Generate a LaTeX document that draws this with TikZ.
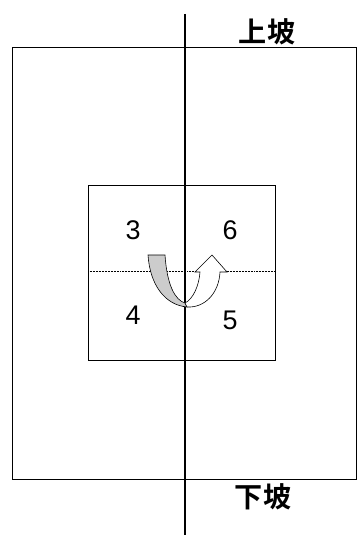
\documentclass[tikz,border=0pt]{standalone}
\usepackage{fontspec}
\setmainfont{Liberation Sans}
\newfontfamily\cjk{Noto Sans CJK SC Bold}
\usepackage{tikz}

\begin{document}
\begin{tikzpicture}[
    x=0.03cm, y=-0.03cm,
    every node/.style={inner sep=0pt},
    num/.style={font=\fontsize{23}{23}\selectfont},
    slope/.style={font=\cjk\fontsize{24}{24}\selectfont},
  ]
    \useasboundingbox (0, 0) rectangle (357, 535);

    % 外框
    \draw[line width=0.8pt] (12, 47) rectangle (356, 479);
    % 中间方框
    \draw[line width=0.8pt] (88, 185) rectangle (275, 360);
    % 虚线
    \draw[line width=0.3pt, densely dotted] (88, 271) -- (275, 271);
    % 竖线
    \draw[line width=1.1pt] (185, 14) -- (185, 535);

    % 掉头箭头（灰色部分）
    \draw[fill=gray!40, line width=0.5pt]
      (148, 255) -- (165, 255)
      .. controls (167, 285) and (175, 300) .. (185, 303)
      -- (187, 307)
      .. controls (165, 305) and (150, 285) .. (148, 255) -- cycle;
    % 掉头箭头（白色部分）
    \draw[fill=white, line width=0.5pt]
      (185, 303) .. controls (193, 299) and (199, 286) .. (200, 272)
      -- (195, 272) -- (212, 255) -- (227, 272) -- (220, 272)
      .. controls (219, 293) and (205, 308) .. (187, 307) -- cycle;

    % 车道编号
    \node[num] (n3) at (133, 230) {3};
    \node[num] (n6) at (230, 230) {6};
    \node[num] (n4) at (133, 315) {4};
    \node[num] (n5) at (230, 320) {5};

    % 坡向
    \node[slope] (up) at (267, 32) {上坡};
    \node[slope] (down) at (263, 497) {下坡};
\end{tikzpicture}
\end{document}
